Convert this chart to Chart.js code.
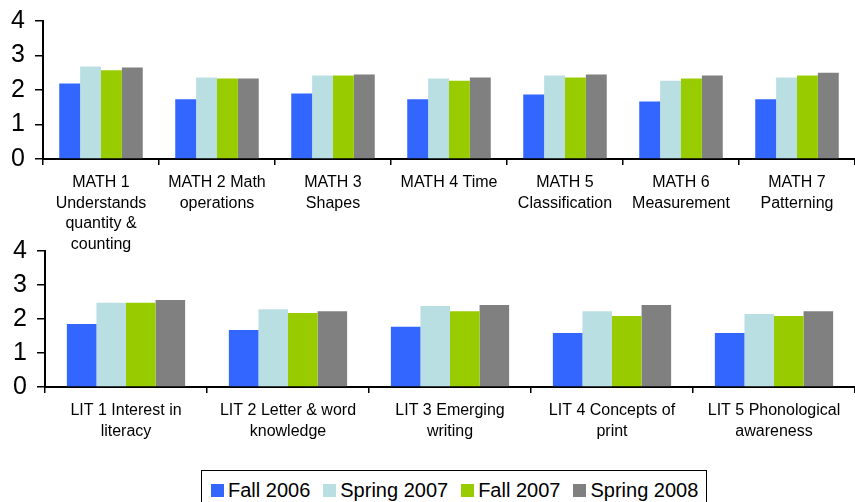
<!DOCTYPE html>
<html>
<head>
<meta charset="utf-8">
<script src="https://cdn.jsdelivr.net/npm/chart.js@4/dist/chart.umd.min.js"></script>
<style>
  html, body { margin: 0; padding: 0; background: #fff; }
  body { width: 855px; height: 502px; position: relative; overflow: hidden; font-family: "Liberation Sans", Arial, sans-serif; }
  #top { position: absolute; left: 0; top: 0; }
  #bot { position: absolute; left: 0; top: 240px; }
  #legend { position: absolute; left: 201px; top: 470px; width: 506px; height: 40px; border: 1.5px solid #000; box-sizing: border-box; display: flex; align-items: flex-start; padding: 8px 0 0 9px; font-size: 20px; color: #000; white-space: nowrap; }
  #legend .item { display: flex; align-items: center; margin-right: 13px; line-height: 22px; }
  #legend .sw { width: 13px; height: 13px; margin-right: 4px; display: inline-block; }
</style>
</head>
<body>
<canvas id="top" width="855" height="255"></canvas>
<canvas id="bot" width="855" height="205"></canvas>
<div id="legend"></div>
<script>
const seriesNames = ["Fall 2006", "Spring 2007", "Fall 2007", "Spring 2008"];
const seriesColors = ["#3366FF", "#BADFE3", "#99CC00", "#808080"];

const mathCategories = [
  ["MATH 1", "Understands", "quantity &", "counting"],
  ["MATH 2 Math", "operations"],
  ["MATH 3", "Shapes"],
  ["MATH 4 Time"],
  ["MATH 5", "Classification"],
  ["MATH 6", "Measurement"],
  ["MATH 7", "Patterning"]
];
const mathFall2006   = [2.19, 1.73, 1.90, 1.73, 1.87, 1.67, 1.73];
const mathSpring2007 = [2.68, 2.36, 2.42, 2.33, 2.42, 2.27, 2.36];
const mathFall2007   = [2.57, 2.33, 2.42, 2.27, 2.36, 2.33, 2.42];
const mathSpring2008 = [2.65, 2.33, 2.45, 2.36, 2.45, 2.42, 2.50];

const litCategories = [
  ["LIT 1 Interest in", "literacy"],
  ["LIT 2 Letter & word", "knowledge"],
  ["LIT 3 Emerging", "writing"],
  ["LIT 4 Concepts of", "print"],
  ["LIT 5 Phonological", "awareness"]
];
const litFall2006   = [1.85, 1.68, 1.77, 1.59, 1.59];
const litSpring2007 = [2.48, 2.29, 2.38, 2.23, 2.15];
const litFall2007   = [2.48, 2.18, 2.23, 2.09, 2.09];
const litSpring2008 = [2.56, 2.23, 2.41, 2.41, 2.23];

const yTicks = [0, 1, 2, 3, 4];

const FONT = '"Liberation Sans", Arial, sans-serif';

function makeChart(id, labels, series, opts) {
  const datasets = series.map((d, i) => ({
    label: seriesNames[i],
    data: d,
    backgroundColor: seriesColors[i],
    borderWidth: 0,
    barPercentage: 1.0,
    categoryPercentage: opts.catPct
  }));
  return new Chart(document.getElementById(id), {
    type: 'bar',
    data: { labels: labels, datasets: datasets },
    options: {
      responsive: false,
      animation: false,
      layout: { padding: { top: opts.padTop, left: 0, right: 0, bottom: 0 } },
      plugins: { legend: { display: false }, tooltip: { enabled: false } },
      scales: {
        x: {
          afterFit: s => { s.height = opts.xHeight; s.paddingLeft = 0; s.paddingRight = 0; },
          grid: { drawOnChartArea: false, tickLength: 6, color: '#000', lineWidth: 1.5 },
          border: { color: '#000', width: 2 },
          ticks: { color: '#000', maxRotation: 0, autoSkip: false, padding: 7,
                   font: { family: FONT, size: 16, lineHeight: 1.3 } }
        },
        y: {
          min: 0, max: 4,
          afterFit: s => { s.width = opts.yWidth; s.paddingTop = 0; s.paddingBottom = 0; },
          afterBuildTicks: s => { s.ticks = yTicks.map(v => ({ value: v })); },
          grid: { drawOnChartArea: false, tickLength: 8, color: '#000', lineWidth: 1.5 },
          border: { color: '#000', width: 2 },
          ticks: { color: '#000', padding: 10, autoSkip: false, font: { family: FONT, size: 25 } }
        }
      }
    }
  });
}

makeChart('top', mathCategories, [mathFall2006, mathSpring2007, mathFall2007, mathSpring2008],
  { catPct: 0.72, padTop: 21, xHeight: 96, yWidth: 43 });
makeChart('bot', litCategories, [litFall2006, litSpring2007, litFall2007, litSpring2008],
  { catPct: 0.73, padTop: 11, xHeight: 58, yWidth: 45 });

const legend = document.getElementById('legend');
seriesNames.forEach((n, i) => {
  const it = document.createElement('span');
  it.className = 'item';
  const sw = document.createElement('span');
  sw.className = 'sw';
  sw.style.background = seriesColors[i];
  it.appendChild(sw);
  it.appendChild(document.createTextNode(n));
  legend.appendChild(it);
});
</script>
</body>
</html>
